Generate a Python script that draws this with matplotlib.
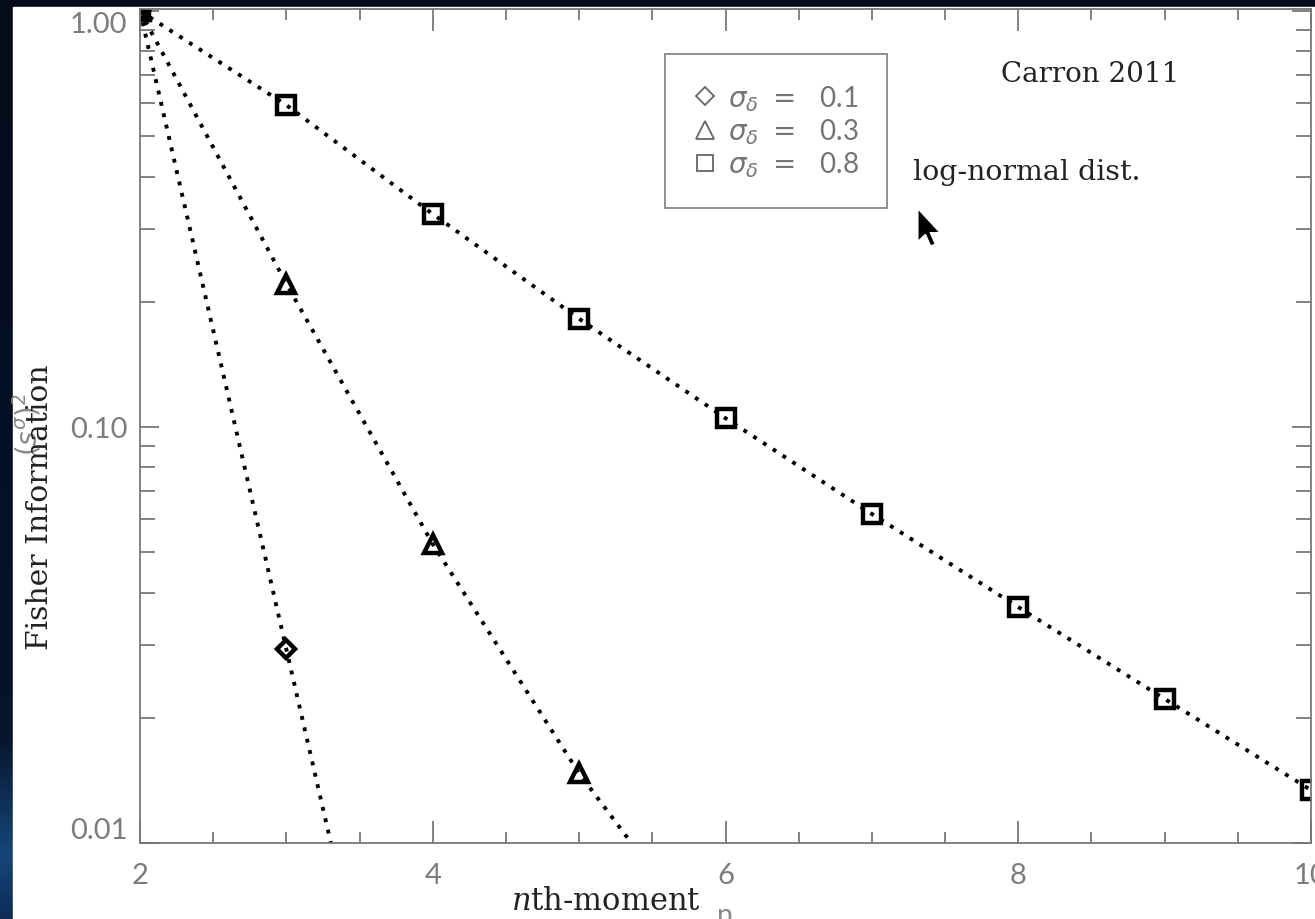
import numpy as np
import matplotlib.pyplot as plt
from matplotlib.lines import Line2D
from matplotlib.patches import Polygon, Rectangle
from matplotlib.ticker import MultipleLocator, FixedLocator, LogLocator, FuncFormatter, NullFormatter

plt.rcParams['font.family'] = ['Lato', 'DejaVu Sans']

# Fisher information of the n-th moment, normalised to n = 2
n_01 = [2, 3, 4]
fi_01 = [1.0, 0.0292, 0.00086]

n_03 = [2, 3, 4, 5, 6]
fi_03 = [1.0, 0.221, 0.0523, 0.0147, 0.0050]

n_08 = [2, 3, 4, 5, 6, 7, 8, 9, 10]
fi_08 = [1.0, 0.594, 0.325, 0.182, 0.105, 0.0618, 0.0369, 0.0222, 0.0134]

sigma_labels = ["0.1", "0.3", "0.8"]
symbols = ["D", "^", "s"]
y_major = [0.01, 0.1, 1.0]

W, H = 1315, 920
fig = plt.figure(figsize=(W / 100, H / 100), dpi=100)
fig.patch.set_facecolor('#050b1a')

# dark backdrop with a blue glow near the bottom, white panel on top
bg = fig.add_axes([0, 0, 1, 1], zorder=-10)
t = np.linspace(0, 1, 300)
stops = [0.0, 0.80, 0.93, 1.0]
cols = np.array([[5, 11, 26], [6, 20, 44], [22, 70, 122], [12, 44, 86]]) / 255
col = np.stack([np.interp(t, stops, cols[:, k]) for k in range(3)], axis=1)
bg.imshow(col[:, None, :], aspect='auto', extent=[0, 1, 0, 1])
bg.add_patch(Rectangle((13 / W, 0), 1, 1 - 8 / H, color='white'))
bg.set_xlim(0, 1)
bg.set_ylim(0, 1)
bg.axis('off')

ax = fig.add_axes([140 / W, 1 - 844 / H, (1311 - 140) / W, (844 - 10) / H])
ax.patch.set_alpha(0)
ax.set_yscale('log')

sizes = [9.5, 13, 12.5]
for n, fi, m, ms in zip([n_01, n_03, n_08], [fi_01, fi_03, fi_08], symbols, sizes):
    ax.plot(n, fi, color='black', lw=2.8, linestyle=(0, (1, 2)),
            marker=m, ms=ms, mfc='none', mec='black', mew=3.2)

ax.set_xlim(2, 10)
ax.set_ylim(0.01, 1.011)

ax.xaxis.set_major_locator(MultipleLocator(2))
ax.xaxis.set_minor_locator(MultipleLocator(0.5))
ax.yaxis.set_major_locator(FixedLocator(y_major))
ax.yaxis.set_minor_locator(LogLocator(base=10, subs=np.arange(2, 10)))
ax.yaxis.set_major_formatter(FuncFormatter(lambda v, _: f"{v:.2f}"))
ax.yaxis.set_minor_formatter(NullFormatter())

ax.tick_params(which='both', direction='in', top=True, right=True,
               color='#777777', width=1.3, labelcolor='#7c7c7c', labelsize=21)
ax.tick_params(axis='x', which='major', length=16, pad=14)
ax.tick_params(axis='x', which='minor', length=8)
ax.tick_params(axis='y', which='major', length=14, pad=9)
ax.tick_params(axis='y', which='minor', length=11)
for s in ax.spines.values():
    s.set_color('#777777')
    s.set_linewidth(1.3)

# keep the end labels inside the axis range
ymaj = ax.yaxis.get_major_ticks()
ymaj[0].label1.set_verticalalignment('bottom')
ymaj[-1].label1.set_verticalalignment('top')

handles = [Line2D([], [], ls='none', marker=m, ms=ms, mfc='none', mec='#666666', mew=1.3)
           for m, ms in zip(symbols, [9, 13, 12])]
labels = [r"$\sigma_\delta\ =\ \ $" + s for s in sigma_labels]
leg = ax.legend(handles, labels, loc='upper left', bbox_to_anchor=(665 / W, 1 - 55 / H),
                bbox_transform=fig.transFigure, borderaxespad=0, borderpad=1.05,
                handlelength=0.8, handletextpad=0.4, labelspacing=0.12,
                fancybox=False, framealpha=1, edgecolor='#888888',
                prop={'family': ['Lato', 'DejaVu Sans'], 'size': 20},
                labelcolor='#757575')
leg.get_frame().set_linewidth(1.3)

serif = dict(family='DejaVu Serif', color='#222222')
fig.text(1001 / W, 1 - 75 / H, "Carron 2011", ha='left', va='center', size=20, **serif)
fig.text(913 / W, 1 - 172 / H, "log-normal dist.", ha='left', va='center', size=20.5, **serif)

# axis titles
fig.text(27 / W, 1 - 424 / H, r"$(s^{\sigma})^2$", rotation=90, ha='center', va='center',
         size=20, color='#8a8a8a')
fig.text(606 / W, 1 - 902 / H, r"$n$th-moment", ha='center', va='center', size=22,
         math_fontfamily='dejavuserif', **serif)
fig.text(40 / W, 1 - 507 / H, "Fisher Information", rotation=90, ha='center', va='center',
         size=21.5, **serif)
fig.text(725 / W, 1 - 924 / H, "n", ha='center', va='baseline', size=21, color='#8a8a8a')

# pointer arrow
tip = np.array([918, 210])
arrow = np.array([(0, 0), (0, 28), (6.5, 22), (11, 32), (15, 30.5), (10.5, 20.5), (19, 20.5)]) * 1.15
pts = [((tip[0] + x) / W, 1 - (tip[1] + y) / H) for x, y in arrow]
fig.patches.append(Polygon(pts, closed=True, facecolor='black', edgecolor='white', lw=0.8,
                           transform=fig.transFigure, figure=fig))

fig.savefig('out.png', dpi=100, facecolor=fig.get_facecolor())
